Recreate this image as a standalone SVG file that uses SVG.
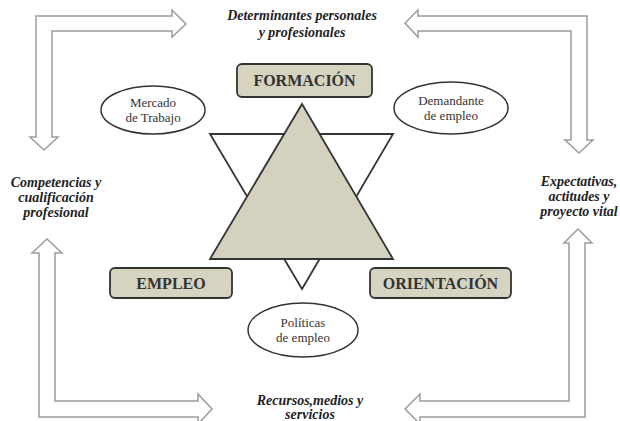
<svg xmlns="http://www.w3.org/2000/svg" width="620" height="421" viewBox="0 0 620 421">
<style>
.arrow{fill:#fff;stroke:#9c9c9c;stroke-width:1.5;stroke-linejoin:miter}
.box{fill:#d6d3c1;stroke:#333;stroke-width:1.8}
.box-t{font-family:"Liberation Serif",serif;font-weight:bold;font-size:16px;fill:#333;text-anchor:middle}
.ell{fill:#fff;stroke:#333;stroke-width:1.5}
.ell-t{font-family:"Liberation Serif",serif;font-size:13px;fill:#333;text-anchor:middle}
.lbl{font-family:"Liberation Serif",serif;font-weight:bold;font-style:italic;font-size:14px;fill:#222;text-anchor:middle}
</style>
<rect width="620" height="421" fill="#fff"/>
<g id="connectors">
<polygon class="arrow" points="36,16 172,16 172,10 186,24 172,37 172,31 52,31 52,137 58,137 44,150 30,137 36,137"/>
<polygon class="arrow" points="405,23 418,10 418,16 587,16 587,140 593,140 579,153 565,140 571,140 571,31 418,31 418,37"/>
<polygon class="arrow" points="47,239 62,253 55,253 55,401 198,401 198,394 212,409 198,424 198,417 39,417 39,253 32,253"/>
<polygon class="arrow" points="578,229 592,243 585,243 585,417 420,417 420,424 405,409 420,394 420,401 569,401 569,243 564,243"/>
</g>
<g id="star">
<polygon points="210,134 393,134 302,289" fill="#fff" stroke="#333" stroke-width="1.8" stroke-linejoin="miter"/>
<polygon points="302,104 210,259 393,259" fill="#d4d1bf" stroke="#333" stroke-width="1.8" stroke-linejoin="miter"/>
</g>
<g id="formacion">
<rect class="box" x="237" y="64" width="135" height="33" rx="5"/>
<text class="box-t" x="304.5" y="86">FORMACIÓN</text>
</g>
<g id="empleo">
<rect class="box" x="110" y="268" width="122" height="30" rx="5"/>
<text class="box-t" x="171" y="289">EMPLEO</text>
</g>
<g id="orientacion">
<rect class="box" x="370" y="268" width="141" height="30" rx="5"/>
<text class="box-t" x="440.5" y="289">ORIENTACIÓN</text>
</g>
<g id="mercado">
<ellipse class="ell" cx="153" cy="110" rx="52" ry="24"/>
<text class="ell-t" x="153" y="107">Mercado</text>
<text class="ell-t" x="153" y="122">de Trabajo</text>
</g>
<g id="demandante">
<ellipse class="ell" cx="451" cy="108" rx="57" ry="26"/>
<text class="ell-t" x="451" y="105">Demandante</text>
<text class="ell-t" x="451" y="120">de empleo</text>
</g>
<g id="politicas">
<ellipse class="ell" cx="303" cy="330" rx="55" ry="27"/>
<text class="ell-t" x="303" y="327">Políticas</text>
<text class="ell-t" x="303" y="342">de empleo</text>
</g>
<g id="determinantes">
<text class="lbl" x="302" y="20">Determinantes personales</text>
<text class="lbl" x="302" y="37">y profesionales</text>
</g>
<g id="competencias">
<text class="lbl" x="56" y="187">Competencias y</text>
<text class="lbl" x="56" y="202">cualificación</text>
<text class="lbl" x="56" y="217">profesional</text>
</g>
<g id="expectativas">
<text class="lbl" x="579" y="186">Expectativas,</text>
<text class="lbl" x="579" y="201">actitudes y</text>
<text class="lbl" x="579" y="216">proyecto vital</text>
</g>
<g id="recursos">
<text class="lbl" x="310" y="405">Recursos,medios y</text>
<text class="lbl" x="310" y="419">servicios</text>
</g>
</svg>
